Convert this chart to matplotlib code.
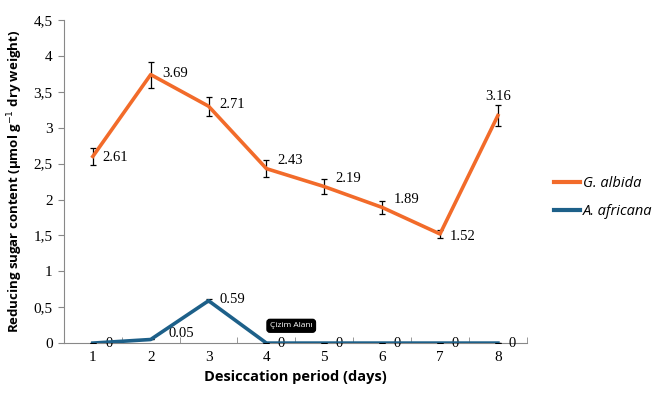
import matplotlib.pyplot as plt
from matplotlib.lines import Line2D
from matplotlib.ticker import FixedLocator, FuncFormatter

days = [1, 2, 3, 4, 5, 6, 7, 8]
albida = [2.60, 3.74, 3.30, 2.43, 2.18, 1.89, 1.52, 3.17]
albida_err = [0.12, 0.18, 0.13, 0.12, 0.11, 0.09, 0.06, 0.15]
albida_labels = ["2.61", "3.69", "2.71", "2.43", "2.19", "1.89", "1.52", "3.16"]
africana = [0, 0.05, 0.59, 0, 0, 0, 0, 0]
africana_err = [0, 0, 0.02, 0, 0, 0, 0, 0]
africana_labels = ["0", "0.05", "0.59", "0", "0", "0", "0", "0"]
y_ticks = [0, 0.5, 1, 1.5, 2, 2.5, 3, 3.5, 4, 4.5]

orange = "#F26B2A"
blue = "#1D6089"
serif = "Liberation Serif"
sans = "Open Sans"

# label offsets (points) relative to each data point
albida_offsets = [(7, -1), (8, 1), (8, 1), (8, 6), (8, 6), (8, 6), (7, -2), (-9, 14)]
africana_offsets = [(9, 0), (13, 4), (8, 1), (8, 0), (8, 0), (8, 0), (8, 0), (8, 0)]

fig = plt.figure(figsize=(6.52, 3.93), dpi=100)
ax = fig.add_axes([0.098, 0.127, 0.71, 0.822])

ax.errorbar(days, albida, yerr=albida_err, color=orange, lw=2.6,
            ecolor="black", elinewidth=0.9, capsize=2.5, capthick=0.9, zorder=3)
ax.errorbar(days, africana, yerr=africana_err, color=blue, lw=2.6,
            ecolor="black", elinewidth=0.9, capsize=2.5, capthick=0.9, zorder=3)

for d, v, t, off in zip(days, albida, albida_labels, albida_offsets):
    ax.annotate(t, (d, v), xytext=off, textcoords="offset points",
                fontsize=10.5, family=serif, va="center")

for d, v, t, off in zip(days, africana, africana_labels, africana_offsets):
    ax.annotate(t, (d, v), xytext=off, textcoords="offset points",
                fontsize=10.5, family=serif, va="center")

ax.text(4.06, 0.22, "Çizim Alanı", fontsize=6, color="white", family=sans,
        bbox=dict(boxstyle="round,pad=0.35", fc="black", ec="black"), zorder=5)

ax.set_xlim(0.5, 8.5)
ax.set_ylim(0, 4.5)
ax.set_xticks(days)
ax.xaxis.set_minor_locator(FixedLocator([x + 0.5 for x in range(0, 9)]))
ax.tick_params(axis="x", which="major", length=0, pad=6)
ax.tick_params(axis="x", which="minor", length=4, direction="in", color="#888888")
ax.set_yticks(y_ticks)
ax.yaxis.set_major_formatter(FuncFormatter(lambda v, p: f"{v:g}".replace(".", ",")))
ax.tick_params(axis="y", length=4, color="#888888", pad=4)
for lab in ax.get_xticklabels() + ax.get_yticklabels():
    lab.set_family(serif)
    lab.set_fontsize(11)

for s in ["top", "right"]:
    ax.spines[s].set_visible(False)
for s in ["left", "bottom"]:
    ax.spines[s].set_color("#888888")

ax.set_xlabel("Desiccation period (days)", family=sans, fontweight="bold",
              fontsize=10.5, labelpad=4)
ax.set_ylabel("Reducing sugar content (µmol g$^{-1}$ dry weight)", family=sans,
              fontweight="bold", fontsize=9.5, labelpad=6)

handles = [Line2D([], [], color=orange, lw=3), Line2D([], [], color=blue, lw=3)]
ax.legend(handles, ["G. albida", "A. africana"], loc="center left",
          bbox_to_anchor=(1.03, 0.45), frameon=False,
          handlelength=1.8, handletextpad=0.2, labelspacing=0.9,
          prop={"family": sans, "style": "italic", "size": 10.5})

fig.savefig("out.png", dpi=100)
